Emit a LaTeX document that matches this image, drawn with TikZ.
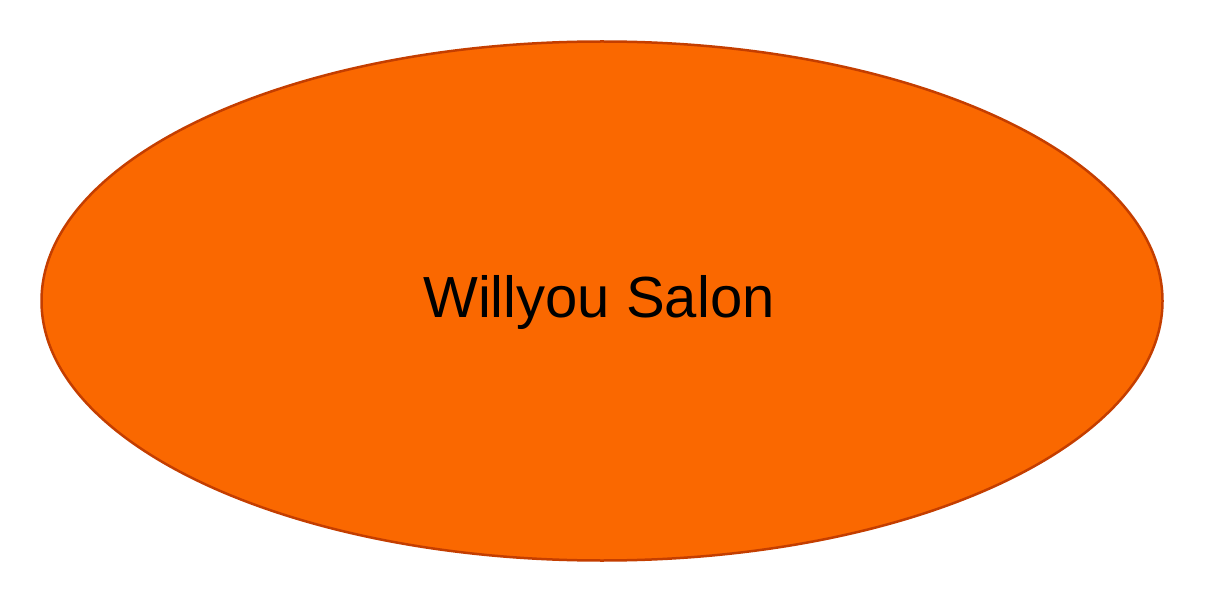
\documentclass[tikz,border=0pt]{standalone}
\usepackage{fontspec}
\setmainfont{Liberation Sans}
\usetikzlibrary{shapes.geometric}
\definecolor{salonfill}{HTML}{FA6800}
\definecolor{salonedge}{HTML}{C43E00}
\tikzset{
  salon/.style={ellipse, fill=salonfill, draw=salonedge, line width=2.5pt,
    minimum width=1121pt, minimum height=519pt, inner sep=0pt,
    font=\fontsize{58}{62}\selectfont, text=black}
}
\begin{document}
\begin{tikzpicture}[x=1pt,y=-1pt]
\useasboundingbox (0,0) rectangle (1208,604);
\node[salon] (salon) at (602,301) {};
\node[font=\fontsize{58}{62}\selectfont, text=black, inner sep=0pt, anchor=base] (label) at (599,317) {Willyou Salon};
\end{tikzpicture}
\end{document}
